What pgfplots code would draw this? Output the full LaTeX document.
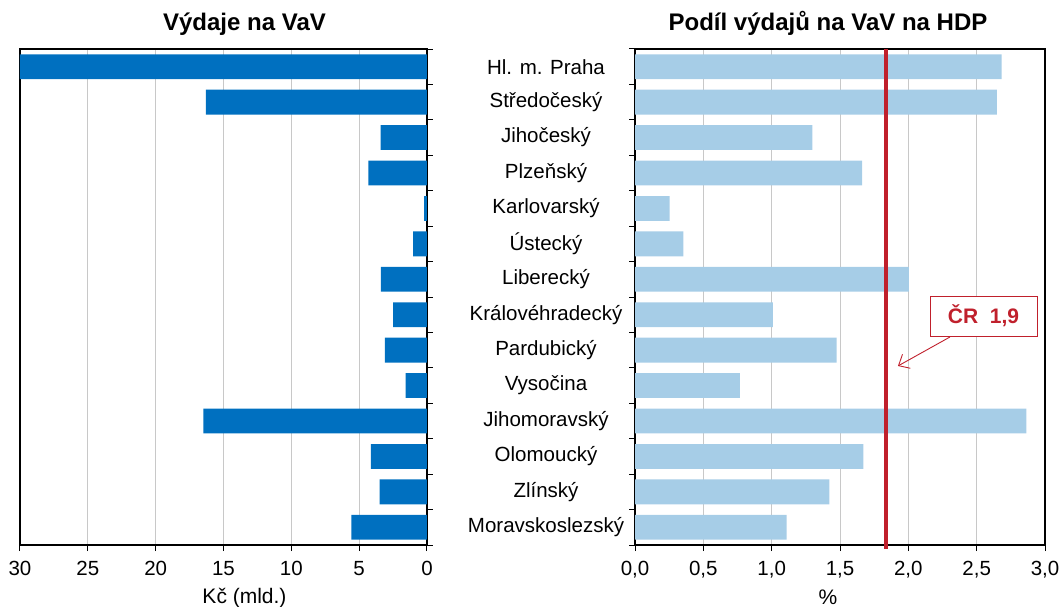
\documentclass[border=0pt]{standalone}
\usepackage{fontspec}
\setmainfont{Liberation Sans}
\usepackage{pgfplots}
\pgfplotsset{compat=1.18}
\usetikzlibrary{arrows.meta}
\definecolor{darkblue}{RGB}{0,112,192}
\definecolor{lightblue}{RGB}{166,205,231}
\definecolor{crred}{RGB}{192,32,44}
\definecolor{gridgrey}{RGB}{200,200,200}

\begin{document}
\begin{tikzpicture}
\useasboundingbox (0pt,0pt) rectangle (1062pt,607pt);
\pgfplotsset{
  common/.style={
    scale only axis, height=496pt, anchor=south west,
    ymin=-0.5, ymax=13.5, y dir=reverse,
    axis line style={black, line width=1.3pt},
    xmajorgrids, major grid style={gridgrey, line width=0.9pt},
    tick style={black, line width=1pt},
    tick align=outside,
    xtick pos=bottom,
    major tick length=6pt,
    ticklabel style={font=\fontsize{20.5}{22}\selectfont},
    xticklabel style={yshift=-7pt},
    /pgf/number format/assume math mode=true,
    xlabel style={font=\fontsize{21}{23}\selectfont, yshift=-5pt},
    title style={font=\bfseries\fontsize{24}{26}\selectfont, yshift=4pt},
  }
}
\begin{axis}[common, at={(20pt,62pt)}, width=407pt,
  xmin=0, xmax=30, x dir=reverse, xtick={0,5,10,15,20,25,30},
  ytick={-0.5,0.5,1.5,2.5,3.5,4.5,5.5,6.5,7.5,8.5,9.5,10.5,11.5,12.5,13.5},
  yticklabels={}, ytick pos=right,
  xlabel={Kč (mld.)}, xlabel style={xshift=21pt},
  title={Výdaje na VaV}, title style={xshift=21pt}]
\addplot[xbar, bar width=0.7, fill=darkblue, draw=none] coordinates {
(30,0) (16.3,1) (3.42,2) (4.33,3) (0.22,4) (1.03,5) (3.40,6)
(2.49,7) (3.10,8) (1.58,9) (16.48,10) (4.14,11) (3.50,12) (5.57,13)};
\end{axis}
\begin{axis}[common, at={(635pt,62pt)}, width=410pt, clip=false,
  xmin=0, xmax=3, xtick={0,0.5,1,1.5,2,2.5,3},
  xticklabel style={/pgf/number format/.cd, fixed, fixed zerofill, precision=1, use comma},
  ytick={-0.5,0.5,1.5,2.5,3.5,4.5,5.5,6.5,7.5,8.5,9.5,10.5,11.5,12.5,13.5},
  yticklabels={}, ytick pos=left,
  extra y ticks={0,1,2,3,4,5,6,7,8,9,10,11,12,13},
  extra y tick labels={Hl. m. Praha, Středočeský, Jihočeský, Plzeňský, Karlovarský, Ústecký, Liberecký, Královéhradecký, Pardubický, Vysočina, Jihomoravský, Olomoucký, Zlínský, Moravskoslezský},
  extra y tick style={major tick length=0pt, tick style={draw=none}},
  yticklabel style={anchor=center, xshift=-89pt, font=\fontsize{20.5}{22}\selectfont},
  xlabel={\%}, xlabel style={xshift=-12pt},
  title={Podíl výdajů na VaV na HDP}, title style={xshift=-12pt}]
\addplot[xbar, bar width=0.7, fill=lightblue, draw=none] coordinates {
(2.683,0) (2.648,1) (1.297,2) (1.661,3) (0.254,4) (0.354,5) (2.003,6)
(1.009,7) (1.476,8) (0.767,9) (2.863,10) (1.671,11) (1.422,12) (1.109,13)};
\addplot[crred, line width=4pt, sharp plot, no marks] coordinates {(1.837,-0.5) (1.837,13.6)};
\node[draw=crred, line width=0.8pt, text=crred, fill=white, font=\bfseries\fontsize{21}{23}\selectfont,
  minimum width=107pt, minimum height=40pt, inner sep=0pt] at (axis cs:2.55,7.04) {ČR\ \ 1,9};
\draw[crred, line width=0.9pt, -{Straight Barb[length=9pt,width=16pt]}] (axis cs:2.304,7.63) -- (axis cs:1.924,8.447);
\end{axis}
\end{tikzpicture}
\end{document}
